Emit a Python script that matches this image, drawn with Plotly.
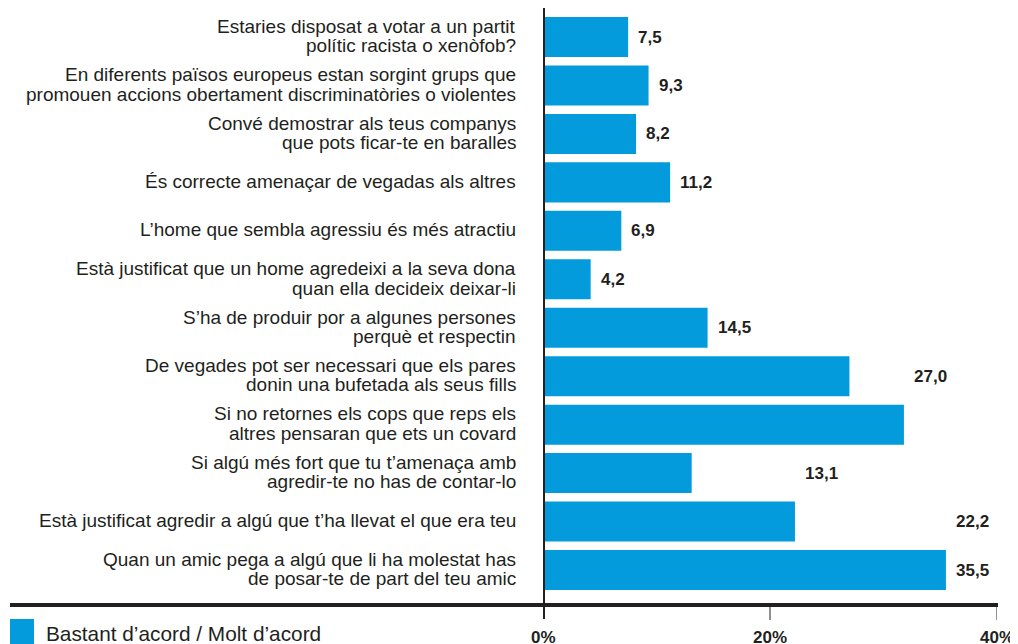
import plotly.graph_objects as go

categories = [
    "Estaries disposat a votar a un partit<br>polític racista o xenòfob?",
    "En diferents països europeus estan sorgint grups que<br>promouen accions obertament discriminatòries o violentes",
    "Convé demostrar als teus companys<br>que pots ficar-te en baralles",
    "És correcte amenaçar de vegadas als altres",
    "L’home que sembla agressiu és més atractiu",
    "Està justificat que un home agredeixi a la seva dona<br>quan ella decideix deixar-li",
    "S’ha de produir por a algunes persones<br>perquè et respectin",
    "De vegades pot ser necessari que els pares<br>donin una bufetada als seus fills",
    "Si no retornes els cops que reps els<br>altres pensaran que ets un covard",
    "Si algú més fort que tu t’amenaça amb<br>agredir-te no has de contar-lo",
    "Està justificat agredir a algú que t’ha llevat el que era teu",
    "Quan un amic pega a algú que li ha molestat has<br>de posar-te de part del teu amic",
]
values = [7.5, 9.3, 8.2, 11.2, 6.9, 4.2, 14.5, 27.0, 31.8, 13.1, 22.2, 35.5]
value_labels = ["7,5", "9,3", "8,2", "11,2", "6,9", "4,2", "14,5", "27,0", "", "13,1", "22,2", "35,5"]
# in the original, some value labels sit beside the bar of the following row
label_anchor = [7.5, 9.3, 8.2, 11.2, 6.9, 4.2, 14.5, 31.8, 31.8, 22.2, 35.5, 35.5]
tick_vals = [0, 20, 40]
tick_text = ["0%", "20%", "40%"]
legend_name = "Bastant d’acord / Molt d’acord"

BLUE = "#039BDB"
INK = "#231F20"
FONT = "Liberation Sans, Arial, sans-serif"

# page body has an 8px margin; work in reference pixels and subtract it
OFF = 8
W, H = 1018 - OFF, 644 - OFF
L, R, T, B = 543 - OFF, W - (997 - OFF), 0, H - (605 - OFF)
PW, PH = W - L - R, H - T - B

fig = go.Figure()
fig.add_trace(go.Bar(
    y=list(range(len(categories))), x=values, orientation="h",
    marker=dict(color=BLUE, line=dict(width=0)),
    width=0.826, name=legend_name, showlegend=False, hoverinfo="x",
))

ann = []
for i, (c, lab, ax) in enumerate(zip(categories, value_labels, label_anchor)):
    lines = c.split("<br>")
    n = len(lines)
    for k, ln in enumerate(lines):
        ys = (n - 1) / 2 * 19.5 - k * 19.5 + 1
        ann.append(dict(x=0, xref="paper", y=i, yref="y", text=ln, showarrow=False,
                        xanchor="right", yanchor="middle", align="right", xshift=-25,
                        yshift=ys, font=dict(family=FONT, size=19, color=INK)))
    if lab:
        ann.append(dict(x=ax, xref="x", y=i, yref="y", text="<b>" + lab + "</b>",
                        showarrow=False, xanchor="left", yanchor="middle", xshift=8,
                        font=dict(family=FONT, size=17, color=INK)))
for tv, tt in zip(tick_vals, tick_text):
    ann.append(dict(x=tv, xref="x", y=0, yref="paper", text="<b>" + tt + "</b>",
                    showarrow=False, xanchor="center", yanchor="middle", yshift=-32,
                    font=dict(family=FONT, size=17, color=INK)))

px = lambda v: (v - OFF - L) / PW
py = lambda v: (H - B - (v - OFF)) / PH
ann.append(dict(x=px(44), xref="paper", y=py(633), yref="paper",
                text=legend_name, showarrow=False, xanchor="left", yanchor="middle",
                font=dict(family=FONT, size=20.8, color=INK)))

shapes = [
    dict(type="line", xref="paper", yref="paper", x0=px(10), x1=px(998), y0=0, y1=0,
         line=dict(color=INK, width=4)),
    dict(type="line", xref="x", yref="paper", x0=0, x1=0, y0=py(619), y1=1,
         line=dict(color=INK, width=4)),
    dict(type="rect", xref="paper", yref="paper", x0=px(10), x1=px(34), y0=py(645), y1=py(619),
         fillcolor=BLUE, line=dict(width=0)),
]
for tv in tick_vals[1:]:
    shapes.append(dict(type="line", xref="x", yref="paper", x0=tv, x1=tv, y0=py(620), y1=0,
                       line=dict(color=INK, width=1)))

fig.update_layout(
    width=W, height=H, margin=dict(l=L, r=R, t=T, b=B),
    paper_bgcolor="white", plot_bgcolor="white",
    xaxis=dict(range=[0, 40], showgrid=False, zeroline=False, showticklabels=False,
               showline=False, ticks=""),
    yaxis=dict(range=[11.722, -0.599], showgrid=False, zeroline=False,
               showticklabels=False, showline=False, ticks=""),
    annotations=ann, shapes=shapes, bargap=0.17,
)
fig.write_html("out.html")
